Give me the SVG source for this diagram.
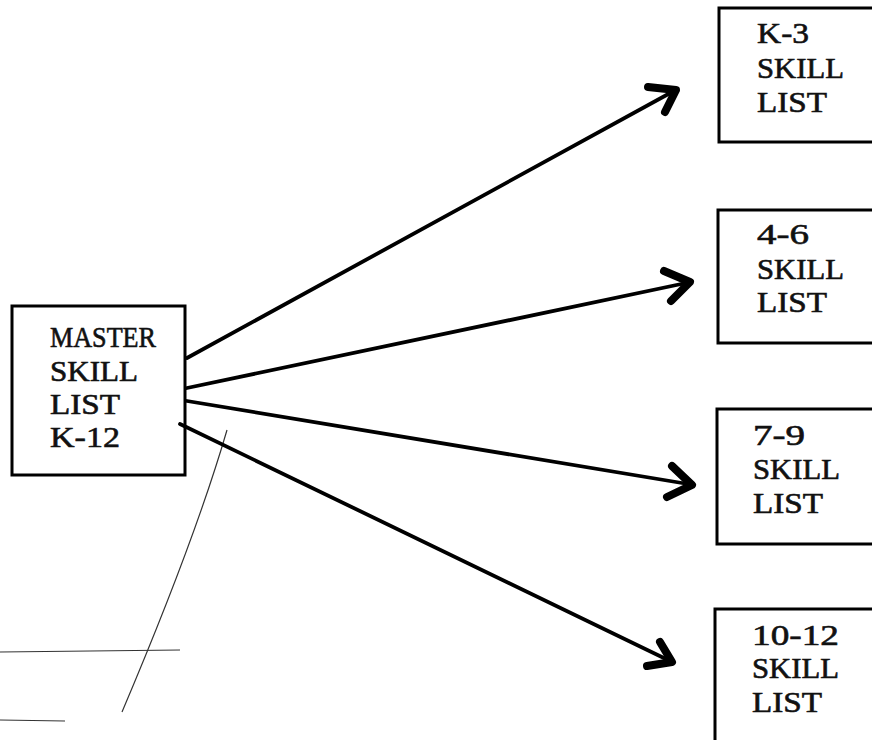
<svg xmlns="http://www.w3.org/2000/svg" width="872" height="740" viewBox="0 0 872 740">
<defs>
<style>
.box{fill:none;stroke:#000;stroke-width:3}
.lbl{font-family:"Liberation Serif","Times New Roman",serif;font-size:29px;fill:#111;stroke:#111;stroke-width:0.6}
.edge{fill:none;stroke:#000;stroke-width:3.8;stroke-linecap:round}
.head{fill:none;stroke:#000;stroke-width:8;stroke-linecap:round;stroke-linejoin:round}
.scan{fill:none;stroke:#333;stroke-width:1.2}
</style>
</defs>
<rect width="872" height="740" fill="#fff"/>
<g id="scan-marks">
<path class="scan" d="M227,430 Q195,540 122,712"/>
<path class="scan" d="M0,652 L180,650"/>
<path class="scan" d="M0,720 L65,721"/>
</g>
<g id="master">
<rect class="box" x="12" y="306" width="173" height="169"/>
<text class="lbl" x="50" y="347" textLength="106" lengthAdjust="spacingAndGlyphs">MASTER</text>
<text class="lbl" x="50" y="381" textLength="88" lengthAdjust="spacingAndGlyphs">SKILL</text>
<text class="lbl" x="50" y="414" textLength="70" lengthAdjust="spacingAndGlyphs">LIST</text>
<text class="lbl" x="50" y="447" textLength="70" lengthAdjust="spacingAndGlyphs">K-12</text>
</g>
<g id="k3">
<rect class="box" x="719" y="8" width="200" height="134"/>
<text class="lbl" x="757" y="43" textLength="52" lengthAdjust="spacingAndGlyphs">K-3</text>
<text class="lbl" x="757" y="78" textLength="87" lengthAdjust="spacingAndGlyphs">SKILL</text>
<text class="lbl" x="757" y="112" textLength="70" lengthAdjust="spacingAndGlyphs">LIST</text>
</g>
<g id="g4-6">
<rect class="box" x="718" y="210" width="200" height="133"/>
<text class="lbl" x="757" y="244" textLength="52" lengthAdjust="spacingAndGlyphs">4-6</text>
<text class="lbl" x="757" y="279" textLength="87" lengthAdjust="spacingAndGlyphs">SKILL</text>
<text class="lbl" x="757" y="312" textLength="70" lengthAdjust="spacingAndGlyphs">LIST</text>
</g>
<g id="g7-9">
<rect class="box" x="717" y="409" width="200" height="135"/>
<text class="lbl" x="753" y="445" textLength="52" lengthAdjust="spacingAndGlyphs">7-9</text>
<text class="lbl" x="753" y="479" textLength="87" lengthAdjust="spacingAndGlyphs">SKILL</text>
<text class="lbl" x="753" y="513" textLength="70" lengthAdjust="spacingAndGlyphs">LIST</text>
</g>
<g id="g10-12">
<rect class="box" x="715" y="609" width="200" height="200"/>
<text class="lbl" x="752" y="645" textLength="87" lengthAdjust="spacingAndGlyphs">10-12</text>
<text class="lbl" x="752" y="678" textLength="87" lengthAdjust="spacingAndGlyphs">SKILL</text>
<text class="lbl" x="752" y="712" textLength="70" lengthAdjust="spacingAndGlyphs">LIST</text>
</g>
<g id="connectors">
<path class="edge" d="M187,358 L672,92"/>
<path class="head" d="M648,87 L676,90 L665,112"/>
<path class="edge" d="M187,388 L686,283"/>
<path class="head" d="M664,271 L690,282 L671,301"/>
<path class="edge" d="M187,401 L688,484"/>
<path class="head" d="M672,466 L692,485 L667,497"/>
<path class="edge" d="M180,424 L668,660"/>
<path class="head" d="M660,642 L672,662 L647,666"/>
</g>
</svg>
